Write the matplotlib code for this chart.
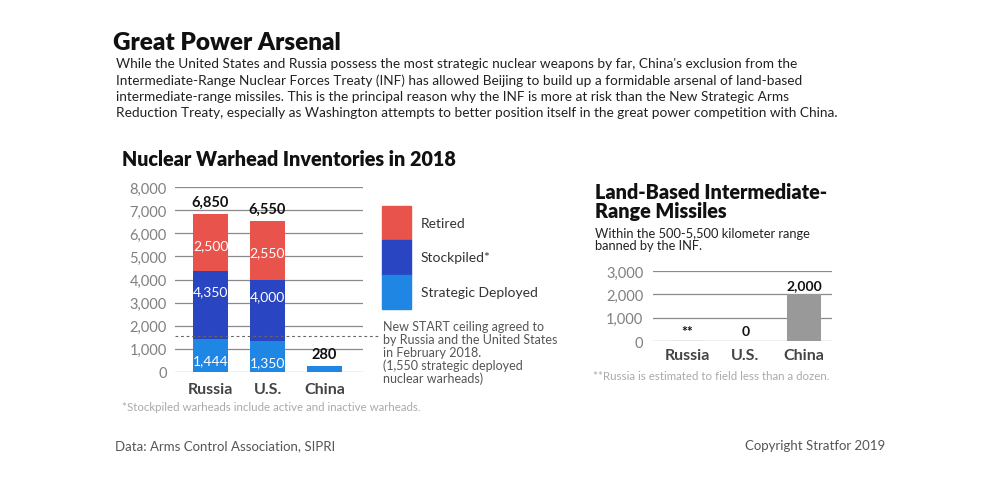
import matplotlib
matplotlib.use("Agg")
import matplotlib.pyplot as plt
import numpy as np

# ---- data ----
countries = ["Russia", "U.S.", "China"]
deployed = [1444, 1350, 280]          # strategic deployed
stockpile_total = [4350, 4000, 280]   # stockpile incl. deployed
totals = [6850, 6550, 280]            # stockpile + retired
deployed_labels = ["1,444", "1,350", ""]
stock_labels = ["4,350", "4,000", ""]
retired_labels = ["2,500", "2,550", ""]
total_labels = ["6,850", "6,550", "280"]
new_start_ceiling = 1550
left_yticks = [0, 1000, 2000, 3000, 4000, 5000, 6000, 7000, 8000]

missile_countries = ["Russia", "U.S.", "China"]
missiles = [12, 0, 2000]
missile_labels = ["**", "0", "2,000"]
right_yticks = [0, 1000, 2000, 3000]

RED = "#E8544B"
DBLUE = "#2A45C2"
LBLUE = "#1F86E3"
GRID = "#8a8a8a"

SANS = ["Lato", "DejaVu Sans"]

W, H = 1000, 485
fig = plt.figure(figsize=(W / 100, H / 100), dpi=100)
fig.patch.set_facecolor("white")


def fx(px):
    return px / W


def fy(py):
    return 1 - py / H


def axes_px(x0, y0, x1, y1):
    return fig.add_axes([fx(x0), fy(y1), fx(x1 - x0), (y1 - y0) / H])


# ---- header text ----
fig.text(fx(113), fy(43), "Great Power Arsenal", family=SANS, weight="heavy",
         fontsize=17.5, color="#111111", va="center", ha="left")
para = ("While the United States and Russia possess the most strategic nuclear weapons by far, China's exclusion from the\n"
        "Intermediate-Range Nuclear Forces Treaty (INF) has allowed Beijing to build up a formidable arsenal of land-based\n"
        "intermediate-range missiles. This is the principal reason why the INF is more at risk than the New Strategic Arms\n"
        "Reduction Treaty, especially as Washington attempts to better position itself in the great power competition with China.")
fig.text(fx(116), fy(58), para, family=SANS, fontsize=9.8, color="#222222",
         va="top", ha="left", linespacing=1.4)

# ---- left chart ----
axL = axes_px(175, 188, 363, 373)
x = np.arange(len(countries))
bw = 0.614
colors_top = [RED, RED, LBLUE]
colors_mid = [DBLUE, DBLUE, LBLUE]
axL.bar(x, totals, bw, color=colors_top, zorder=3)
axL.bar(x, stockpile_total, bw, color=colors_mid, zorder=3)
axL.bar(x, deployed, bw, color=LBLUE, zorder=3)
axL.set_ylim(0, 8000)
axL.set_xlim(-0.623, 2.675)
axL.set_yticks(left_yticks)
axL.set_yticklabels([f"{v:,}" for v in left_yticks])
axL.grid(axis="y", color=GRID, lw=0.9, zorder=0)
for s in axL.spines.values():
    s.set_visible(False)
axL.tick_params(axis="y", length=0, pad=6, labelcolor="#808080", labelsize=10.5)
axL.tick_params(axis="x", length=0, pad=7, labelsize=11.5, labelcolor="#444444")
axL.set_xticks(x)
axL.set_xticklabels(countries, family=SANS, weight="bold")
for lab in axL.get_yticklabels():
    lab.set_family(SANS)
for i in range(len(countries)):
    if deployed_labels[i]:
        axL.text(x[i], deployed[i] / 2 - 230, deployed_labels[i], ha="center", va="center",
                 color="white", fontsize=10, family=SANS, zorder=4)
    if stock_labels[i]:
        axL.text(x[i], (deployed[i] + stockpile_total[i]) / 2 + 600, stock_labels[i],
                 ha="center", va="center", color="white", fontsize=10, family=SANS, zorder=4)
    if retired_labels[i]:
        axL.text(x[i], (stockpile_total[i] + totals[i]) / 2 - 100, retired_labels[i],
                 ha="center", va="center", color="white", fontsize=10, family=SANS, zorder=4)
    axL.text(x[i], totals[i] + 200, total_labels[i], ha="center", va="bottom",
             color="#111111", fontsize=10.5, family=SANS, weight="bold", zorder=4)
axL.plot([-0.623, 2.94], [new_start_ceiling, new_start_ceiling], ls=(0, (2.5, 2.5)),
         color="#666666", lw=0.8, clip_on=False, zorder=5)

# legend boxes
seg = [(207, 241, RED, "Retired"), (241, 276, DBLUE, "Stockpiled*"),
       (276, 310, LBLUE, "Strategic Deployed")]
for y0, y1, c, lab in seg:
    fig.patches.append(plt.Rectangle((fx(382), fy(y1)), fx(29), (y1 - y0) / H,
                                     transform=fig.transFigure, color=c))
    fig.text(fx(421), fy((y0 + y1) / 2), lab, family=SANS, fontsize=10,
             color="#333333", va="center", ha="left")

fig.text(fx(383), fy(321),
         "New START ceiling agreed to\nby Russia and the United States\nin February 2018.\n(1,550 strategic deployed\nnuclear warheads)",
         family=SANS, fontsize=9, color="#555555", va="top", ha="left", linespacing=1.08)
fig.text(fx(122), fy(160), "Nuclear Warhead Inventories in 2018", family=SANS,
         weight="heavy", fontsize=14.2, color="#111111", va="center", ha="left")
fig.text(fx(122), fy(408), "*Stockpiled warheads include active and inactive warheads.",
         family=SANS, fontsize=8.3, color="#aaaaaa", va="center", ha="left")

# ---- right chart ----
axR = axes_px(653, 272, 832, 342)
xr = np.arange(len(missile_countries))
bwr = 0.58
axR.bar(xr, missiles, bwr, color=["#555555", "#999999", "#999999"],
        edgecolor=["#555555", "none", "none"], lw=0.8, zorder=3)
axR.set_ylim(0, 3000)
axR.set_xlim(-0.581, 2.479)
axR.set_yticks(right_yticks)
axR.set_yticklabels([f"{v:,}" for v in right_yticks])
axR.grid(axis="y", color=GRID, lw=0.9, zorder=0)
for s in axR.spines.values():
    s.set_visible(False)
axR.tick_params(axis="y", length=0, pad=7, labelcolor="#808080", labelsize=10.5)
axR.tick_params(axis="x", length=0, pad=5, labelsize=11.5, labelcolor="#444444")
axR.set_xticks(xr)
axR.set_xticklabels(missile_countries, family=SANS, weight="bold")
for lab in axR.get_yticklabels():
    lab.set_family(SANS)
for i in range(len(missile_countries)):
    axR.text(xr[i], missiles[i] + 150, missile_labels[i], ha="center", va="bottom",
             color="#111111", fontsize=10, family=SANS, weight="bold", zorder=4)

fig.text(fx(595), fy(202), "Land-Based Intermediate-\nRange Missiles", family=SANS,
         weight="heavy", fontsize=14.2, color="#111111", va="center", ha="left",
         linespacing=0.98)
fig.text(fx(595), fy(240), "Within the 500-5,500 kilometer range\nbanned by the INF.",
         family=SANS, fontsize=9.3, color="#222222", va="center", ha="left", linespacing=1.0)
fig.text(fx(593), fy(376), "**Russia is estimated to field less than a dozen.",
         family=SANS, fontsize=8.3, color="#aaaaaa", va="center", ha="left")

# ---- footer ----
fig.text(fx(115), fy(446), "Data: Arms Control Association, SIPRI", family=SANS,
         fontsize=9.5, color="#555555", va="center", ha="left")
fig.text(fx(885), fy(446), "Copyright Stratfor 2019", family=SANS,
         fontsize=9.5, color="#555555", va="center", ha="right")

fig.savefig("out.png", dpi=100, facecolor="white")
